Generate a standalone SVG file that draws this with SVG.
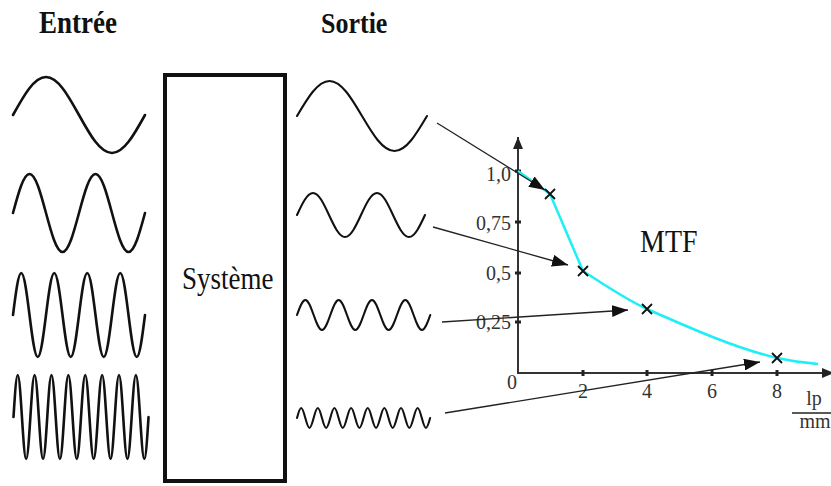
<svg xmlns="http://www.w3.org/2000/svg" width="831" height="486" viewBox="0 0 831 486">
<style>
.wave{fill:none;stroke:#111;stroke-width:2.6;stroke-linejoin:round;stroke-linecap:round}
.owave{fill:none;stroke:#111;stroke-width:2.1;stroke-linejoin:round;stroke-linecap:round}
.head{font-weight:bold;fill:#111}
.lbl{fill:#111}
.tick{font-size:20px;fill:#333}
.axis{stroke:#333;stroke-width:2;fill:none}
.conn{stroke:#222;stroke-width:1.3;fill:none}
.cross{stroke:#111;stroke-width:1.8}
</style>
<defs>
<marker id="ah" markerUnits="userSpaceOnUse" viewBox="0 0 16 12" refX="16" refY="6" markerWidth="16" markerHeight="12" orient="auto">
<path d="M0,0 L16,6 L0,12 z" fill="#111"/>
</marker>
<marker id="ax" markerUnits="userSpaceOnUse" viewBox="0 0 12 12" refX="12" refY="6" markerWidth="12" markerHeight="12" orient="auto">
<path d="M0,1 L12,6 L0,11 z" fill="#222"/>
</marker>
</defs>
<rect width="831" height="486" fill="#fff"/>

<g id="titles" font-family="'Liberation Serif', 'Times New Roman', serif">
<text class="head" font-size="27" transform="translate(39,33) scale(1,1.15)">Entrée</text>
<text class="head" font-size="26" transform="translate(321,33) scale(1,1.15)">Sortie</text>
</g>

<g id="input-waves">
<path class="wave" d="M13,115 c10.76,-19.47 21.06,-38 33,-38 s22.24,18.53 33,38 s21.06,38 33,38 s22.24,-18.53 33,-38"/>
<path class="wave" d="M13,213 c5.38,-19.98 10.53,-39 16.5,-39 s11.12,19.02 16.5,39 s10.53,39 16.5,39 s11.12,-19.02 16.5,-39 s10.53,-39 16.5,-39 s11.12,19.02 16.5,39 s10.53,39 16.5,39 s11.12,-19.02 16.5,-39"/>
<path class="wave" d="M13,315 c2.69,-21.52 5.26,-42 8.25,-42 s5.56,20.48 8.25,42 s5.26,42 8.25,42 s5.56,-20.48 8.25,-42 s5.26,-42 8.25,-42 s5.56,20.48 8.25,42 s5.26,42 8.25,42 s5.56,-20.48 8.25,-42 s5.26,-42 8.25,-42 s5.56,20.48 8.25,42 s5.26,42 8.25,42 s5.56,-20.48 8.25,-42 s5.26,-42 8.25,-42 s5.56,20.48 8.25,42 s5.26,42 8.25,42 s5.56,-20.48 8.25,-42"/>
<path class="wave" stroke-width="2.8" d="M13.5,417 c1.38,-21.52 2.69,-42 4.22,-42 s2.84,20.48 4.22,42 s2.69,42 4.22,42 s2.84,-20.48 4.22,-42 s2.69,-42 4.22,-42 s2.84,20.48 4.22,42 s2.69,42 4.22,42 s2.84,-20.48 4.22,-42 s2.69,-42 4.22,-42 s2.84,20.48 4.22,42 s2.69,42 4.22,42 s2.84,-20.48 4.22,-42 s2.69,-42 4.22,-42 s2.84,20.48 4.22,42 s2.69,42 4.22,42 s2.84,-20.48 4.22,-42 s2.69,-42 4.22,-42 s2.84,20.48 4.22,42 s2.69,42 4.22,42 s2.84,-20.48 4.22,-42 s2.69,-42 4.22,-42 s2.84,20.48 4.22,42 s2.69,42 4.22,42 s2.84,-20.48 4.22,-42 s2.69,-42 4.22,-42 s2.84,20.48 4.22,42 s2.69,42 4.22,42 s2.84,-20.48 4.22,-42 s2.69,-42 4.22,-42 s2.84,20.48 4.22,42 s2.69,42 4.22,42 s2.84,-20.48 4.22,-42"/>
</g>

<g id="systeme">
<rect x="165" y="75" width="120" height="406" fill="#fff" stroke="#111" stroke-width="4"/>
<text class="lbl" font-family="'Liberation Serif', 'Times New Roman', serif" font-size="27" transform="translate(182,289) scale(1,1.15)">Système</text>
</g>

<g id="output-waves">
<path class="owave" d="M297,116 c10.6,-17.93 20.74,-35 32.5,-35 s21.9,17.07 32.5,35 s20.74,35 32.5,35 s21.9,-17.07 32.5,-35"/>
<path class="owave" d="M297,215 c5.22,-11.27 10.21,-22 16,-22 s10.78,10.73 16,22 s10.21,22 16,22 s10.78,-10.73 16,-22 s10.21,-22 16,-22 s10.78,10.73 16,22 s10.21,22 16,22 s10.78,-10.73 16,-22"/>
<path class="owave" d="M297,315 c2.72,-7.68 5.32,-15 8.33,-15 s5.61,7.32 8.33,15 s5.32,15 8.33,15 s5.61,-7.32 8.33,-15 s5.32,-15 8.33,-15 s5.61,7.32 8.33,15 s5.32,15 8.33,15 s5.61,-7.32 8.33,-15 s5.32,-15 8.33,-15 s5.61,7.32 8.33,15 s5.32,15 8.33,15 s5.61,-7.32 8.33,-15 s5.32,-15 8.33,-15 s5.61,7.32 8.33,15 s5.32,15 8.33,15 s5.61,-7.32 8.33,-15"/>
<path class="owave" d="M297,418 c1.36,-5.12 2.65,-10 4.16,-10 s2.8,4.88 4.16,10 s2.65,10 4.16,10 s2.8,-4.88 4.16,-10 s2.65,-10 4.16,-10 s2.8,4.88 4.16,10 s2.65,10 4.16,10 s2.8,-4.88 4.16,-10 s2.65,-10 4.16,-10 s2.8,4.88 4.16,10 s2.65,10 4.16,10 s2.8,-4.88 4.16,-10 s2.65,-10 4.16,-10 s2.8,4.88 4.16,10 s2.65,10 4.16,10 s2.8,-4.88 4.16,-10 s2.65,-10 4.16,-10 s2.8,4.88 4.16,10 s2.65,10 4.16,10 s2.8,-4.88 4.16,-10 s2.65,-10 4.16,-10 s2.8,4.88 4.16,10 s2.65,10 4.16,10 s2.8,-4.88 4.16,-10 s2.65,-10 4.16,-10 s2.8,4.88 4.16,10 s2.65,10 4.16,10 s2.8,-4.88 4.16,-10 s2.65,-10 4.16,-10 s2.8,4.88 4.16,10 s2.65,10 4.16,10 s2.8,-4.88 4.16,-10"/>
</g>

<g id="mtf-chart" font-family="'Liberation Serif', 'Times New Roman', serif">
<line class="axis" x1="518" y1="374" x2="518" y2="137" marker-end="url(#ax)"/>
<line class="axis" x1="517" y1="373" x2="834" y2="373" marker-end="url(#ax)"/>
<g stroke="#222" stroke-width="3">
<line x1="515" y1="171" x2="521" y2="171"/>
<line x1="515" y1="222" x2="521" y2="222"/>
<line x1="515" y1="273" x2="521" y2="273"/>
<line x1="515" y1="322" x2="521" y2="322"/>
<line x1="583" y1="370" x2="583" y2="376"/>
<line x1="647" y1="370" x2="647" y2="376"/>
<line x1="712" y1="370" x2="712" y2="376"/>
<line x1="777" y1="370" x2="777" y2="376"/>
</g>
<g class="tick" text-anchor="end">
<text x="511" y="181">1,0</text>
<text x="511" y="230">0,75</text>
<text x="511" y="280">0,5</text>
<text x="511" y="329">0,25</text>
</g>
<g class="tick" text-anchor="middle">
<text x="512" y="389">0</text>
<text x="583" y="398">2</text>
<text x="647" y="398">4</text>
<text x="712" y="398">6</text>
<text x="777" y="398">8</text>
<text x="814" y="405">lp</text>
<text x="815" y="428">mm</text>
</g>
<line x1="792" y1="413" x2="831" y2="413" stroke="#222" stroke-width="1.5"/>
<path d="M518,171 L550,194 L583,271 C605,285 625,299 647,309 C690,328 735,348 777,358 C795,362 805,363 818,364" fill="none" stroke="#1EEFF5" stroke-width="2.5" stroke-linejoin="round"/>
<g class="cross">
<path d="M545,189 l10,10 m0,-10 l-10,10"/>
<path d="M578,266 l10,10 m0,-10 l-10,10"/>
<path d="M642,304 l10,10 m0,-10 l-10,10"/>
<path d="M772,353 l10,10 m0,-10 l-10,10"/>
</g>
<text class="lbl" font-size="28" transform="translate(640,252) scale(1,1.15)">MTF</text>
</g>

<g id="connectors">
<line class="conn" x1="437" y1="123" x2="545" y2="190" marker-end="url(#ah)"/>
<line class="conn" x1="433" y1="227" x2="568" y2="265" marker-end="url(#ah)"/>
<line class="conn" x1="442" y1="322" x2="628" y2="310" marker-end="url(#ah)"/>
<line class="conn" x1="445" y1="413" x2="760" y2="362" marker-end="url(#ah)"/>
</g>
</svg>
